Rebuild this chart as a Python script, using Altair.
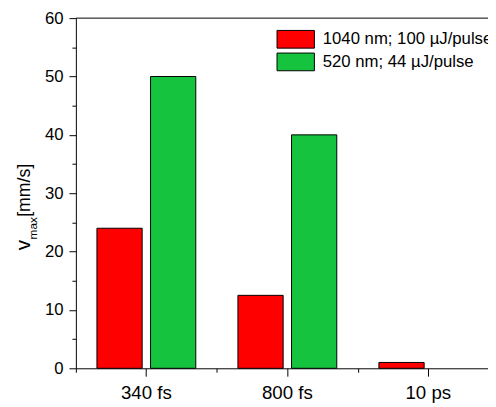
import altair as alt
import pandas as pd

categories = ["340 fs", "800 fs", "10 ps"]
series = ["1040 nm; 100 µJ/pulse", "520 nm; 44 µJ/pulse"]
red_values = [24, 12.5, 1]
green_values = [50, 40, None]
colors = ["#FF0000", "#15C33E"]
y_major = [0, 10, 20, 30, 40, 50, 60]
y_minor = [5, 15, 25, 35, 45, 55]

rows = []
for i, c in enumerate(categories):
    rows.append({"cat": c, "series": series[0], "value": red_values[i]})
    if green_values[i] is not None:
        rows.append({"cat": c, "series": series[1], "value": green_values[i]})
df = pd.DataFrame(rows)

FONT = "Liberation Sans"
X_RANGE = 430
x_scale = alt.Scale(domain=categories, range=[0, X_RANGE], paddingInner=0, paddingOuter=0)
y_scale = alt.Scale(domain=[0, 60], nice=False)

bars = alt.Chart(df).mark_bar(stroke="black", strokeWidth=1, opacity=1).encode(
    x=alt.X("cat:N", scale=x_scale, sort=categories,
            axis=alt.Axis(orient="bottom", title=None, labelAngle=0, labelFontSize=19,
                          labelFont=FONT, labelColor="black", tickSize=8, tickColor="black",
                          domainColor="black", labelPadding=8, grid=False)),
    xOffset=alt.XOffset("series:N", sort=series,
                        scale=alt.Scale(paddingInner=0.156, paddingOuter=0.393)),
    y=alt.Y("value:Q", scale=y_scale,
            axis=alt.Axis(orient="left", title=None, values=y_major, labelFontSize=17,
                          labelFont=FONT, labelColor="black", tickSize=7, tickColor="black",
                          domainColor="black", labelPadding=6, grid=False)),
    color=alt.Color("series:N", sort=series, scale=alt.Scale(domain=series, range=colors),
                    legend=alt.Legend(title=None, orient="none", legendX=204, legendY=12,
                                      symbolType="M-1,-1H3.222V1H-1Z", symbolSize=324,
                                      symbolStrokeColor="black", symbolStrokeWidth=1,
                                      symbolOpacity=1, labelFont=FONT, labelFontSize=17,
                                      labelColor="black", labelOffset=28, rowPadding=0,
                                      labelLimit=400, padding=0, offset=0)),
)

minor = alt.Chart(df).mark_point(opacity=0).encode(
    x=alt.X("cat:N", scale=x_scale, sort=categories,
            axis=alt.Axis(orient="bottom", title=None, labels=False, domain=False,
                          tickBand="extent", tickSize=4, tickColor="black", grid=False)),
    y=alt.Y("value:Q", scale=y_scale,
            axis=alt.Axis(orient="left", title=None, labels=False, domain=False,
                          values=y_minor, tickSize=4, tickColor="black", grid=False)),
)

frame = alt.Chart(pd.DataFrame({"k": [0]})).mark_rule(color="black", strokeWidth=1).encode(
    x=alt.value(0), x2=alt.value(X_RANGE), y=alt.value(0)
)

tdf = pd.DataFrame({"k": [0]})
t_v = alt.Chart(tdf).mark_text(text="v", angle=270, align="left", baseline="alphabetic",
                               font=FONT, fontSize=21, color="black").encode(
    x=alt.value(-47), y=alt.value(236))
t_max = alt.Chart(tdf).mark_text(text="max", angle=270, align="left", baseline="alphabetic",
                                 font=FONT, fontSize=12, color="black").encode(
    x=alt.value(-40), y=alt.value(225))
t_unit = alt.Chart(tdf).mark_text(text="[mm/s]", angle=270, align="left", baseline="alphabetic",
                                  font=FONT, fontSize=18, color="black").encode(
    x=alt.value(-47), y=alt.value(202))

chart = alt.layer(bars, minor, frame, t_v, t_max, t_unit).resolve_axis(
    x="independent", y="independent"
).properties(
    width=419, height=356,
    autosize=alt.AutoSizeParams(type="none"),
    padding={"left": 69, "top": 7, "right": 0, "bottom": 34},
).configure_view(stroke="transparent")

chart.save("out.html", embed_options={"renderer": "svg", "actions": False})
